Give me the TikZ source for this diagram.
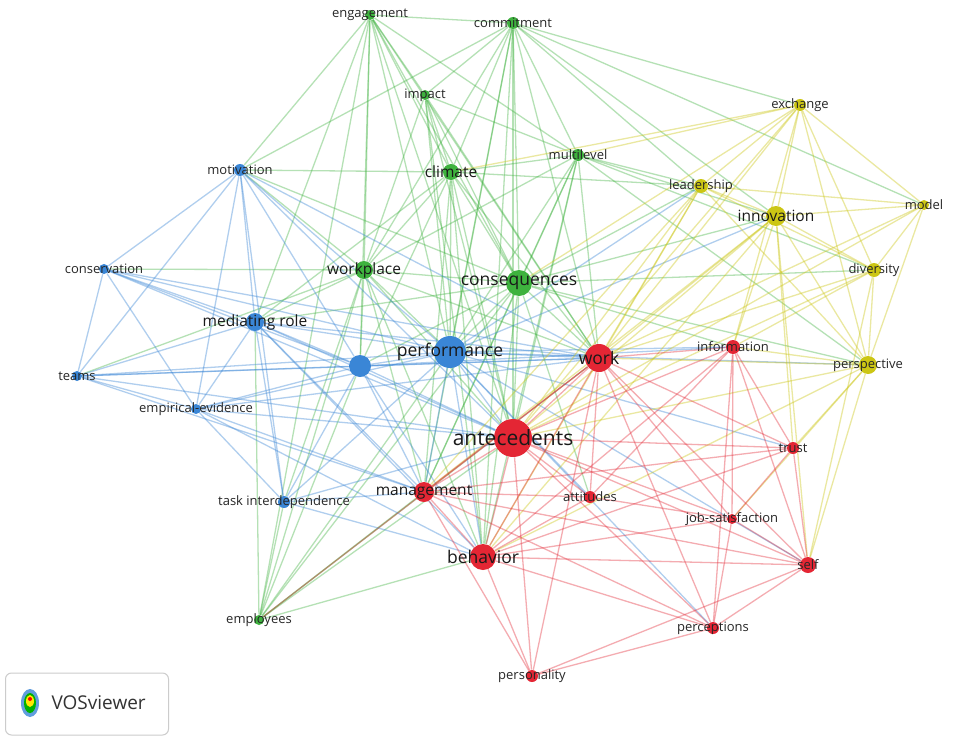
\documentclass[tikz,border=0pt]{standalone}
\usepackage{fontspec}
\setmainfont{Open Sans}
\pgfdeclarelayer{background}
\pgfsetlayers{background,main}
\definecolor{vred}{RGB}{228,38,52}
\definecolor{vgreen}{RGB}{62,178,62}
\definecolor{vblue}{RGB}{58,134,214}
\definecolor{vyellow}{RGB}{204,198,20}
\tikzset{every picture/.style={line width=0.75pt}}
\tikzset{
  dot/.style 2 args={circle,fill=#1,minimum size=#2,inner sep=0pt},
  lbl/.style={font=\fontsize{13}{13}\selectfont,text=black!85},
  midlbl/.style={font=\fontsize{15.5}{15.5}\selectfont,text=black!90},
  biglbl/.style={font=\fontsize{17.5}{17.5}\selectfont,text=black!90},
  hugelbl/.style={font=\fontsize{21}{21}\selectfont,text=black!90},
  redge/.style={draw=vred,draw opacity=0.38,line width=1.3pt},
  gedge/.style={draw=vgreen,draw opacity=0.38,line width=1.3pt},
  bedge/.style={draw=vblue,draw opacity=0.4,line width=1.3pt},
  yedge/.style={draw=vyellow,draw opacity=0.4,line width=1.3pt}
}

\begin{document}
\begin{tikzpicture}[x=1pt,y=-1pt]
\useasboundingbox (0,0) rectangle (957,741);

% green cluster
\node [dot={vgreen}{10}] (eng) at (370,15) {};
\node [dot={vgreen}{12}] (comm) at (513,23) {};
\node [dot={vgreen}{10}] (imp) at (425,95) {};
\node [dot={vgreen}{16}] (clim) at (451,172) {};
\node [dot={vgreen}{12}] (multi) at (578,155) {};
\node [dot={vgreen}{18}] (wplace) at (364,270) {};
\node [dot={vgreen}{26}] (conseq) at (519,283) {};
\node [dot={vgreen}{10}] (empl) at (259,620) {};
% blue cluster
\node [dot={vblue}{12}] (motiv) at (240,170) {};
\node [dot={vblue}{10}] (cons) at (104,269) {};
\node [dot={vblue}{18}] (medrole) at (255,322) {};
\node [dot={vblue}{10}] (teams) at (77,376) {};
\node [dot={vblue}{10}] (empev) at (196,409) {};
\node [dot={vblue}{12}] (task) at (284,502) {};
\node [dot={vblue}{22}] (blueb) at (360,366) {};
\node [dot={vblue}{32}] (perf) at (450,352) {};
% yellow cluster
\node [dot={vyellow}{12}] (exch) at (800,105) {};
\node [dot={vyellow}{14}] (lead) at (701,186) {};
\node [dot={vyellow}{20}] (innov) at (776,216) {};
\node [dot={vyellow}{10}] (model) at (924,205) {};
\node [dot={vyellow}{14}] (divers) at (874,270) {};
\node [dot={vyellow}{18}] (persp) at (868,365) {};
% red cluster
\node [dot={vred}{28}] (work) at (599,358) {};
\node [dot={vred}{14}] (info) at (733,347) {};
\node [dot={vred}{38}] (ante) at (513,438) {};
\node [dot={vred}{12}] (trust) at (793,448) {};
\node [dot={vred}{20}] (mgmt) at (424,492) {};
\node [dot={vred}{12}] (att) at (590,497) {};
\node [dot={vred}{10}] (jobsat) at (732,519) {};
\node [dot={vred}{26}] (behav) at (483,557) {};
\node [dot={vred}{16}] (self) at (808,565) {};
\node [dot={vred}{12}] (percep) at (713,628) {};
\node [dot={vred}{12}] (pers) at (532,676) {};

\begin{pgfonlayer}{background}
\fill [white] (0,0) rectangle (957,741);
\foreach \a/\b in {eng/comm,eng/imp,eng/clim,eng/wplace,eng/conseq,eng/perf,eng/ante,eng/blueb,eng/medrole,eng/empl,eng/multi,eng/work,eng/motiv,
  comm/imp,comm/clim,comm/multi,comm/wplace,comm/conseq,comm/perf,comm/ante,comm/work,comm/behav,comm/lead,comm/innov,comm/exch,comm/model,comm/mgmt,comm/motiv,
  imp/clim,imp/wplace,imp/conseq,imp/perf,imp/ante,imp/work,imp/multi,imp/behav,
  clim/wplace,clim/conseq,clim/perf,clim/ante,clim/work,clim/multi,clim/lead,clim/mgmt,clim/behav,clim/motiv,clim/medrole,clim/blueb,
  multi/conseq,multi/perf,multi/ante,multi/work,multi/lead,multi/innov,multi/wplace,multi/mgmt,multi/behav,multi/divers,multi/persp,
  wplace/conseq,wplace/perf,wplace/ante,wplace/blueb,wplace/medrole,wplace/motiv,wplace/cons,wplace/teams,wplace/mgmt,wplace/behav,wplace/work,wplace/empl,wplace/task,
  conseq/perf,conseq/ante,conseq/work,conseq/lead,conseq/innov,conseq/info,conseq/mgmt,conseq/behav,conseq/blueb,conseq/medrole,conseq/empl,conseq/divers,conseq/persp,conseq/att,conseq/motiv,
  empl/perf,empl/blueb,empl/mgmt,empl/ante,empl/task,empl/medrole,empl/behav,empl/work}
  \draw [gedge] (\a) -- (\b);
\foreach \a/\b in {motiv/cons,motiv/medrole,motiv/teams,motiv/empev,motiv/blueb,motiv/perf,motiv/task,motiv/ante,motiv/work,
  cons/medrole,cons/teams,cons/empev,cons/blueb,cons/perf,cons/ante,cons/work,
  medrole/teams,medrole/empev,medrole/blueb,medrole/perf,medrole/ante,medrole/work,medrole/mgmt,medrole/task,medrole/behav,
  teams/empev,teams/blueb,teams/perf,teams/ante,teams/work,teams/mgmt,
  empev/blueb,empev/perf,empev/ante,empev/work,empev/task,empev/mgmt,empev/behav,
  task/blueb,task/perf,task/ante,task/mgmt,task/behav,
  blueb/perf,blueb/ante,blueb/work,blueb/mgmt,blueb/behav,blueb/info,
  perf/ante,perf/work,perf/mgmt,perf/behav,perf/info,perf/lead,perf/innov,perf/persp,perf/att,perf/self,perf/percep,perf/trust}
  \draw [bedge] (\a) -- (\b);
\foreach \a/\b in {exch/lead,exch/innov,exch/model,exch/divers,exch/persp,exch/work,exch/ante,exch/conseq,exch/multi,exch/info,exch/clim,
  lead/innov,lead/model,lead/divers,lead/persp,lead/work,lead/ante,lead/behav,lead/mgmt,
  innov/model,innov/divers,innov/persp,innov/work,innov/ante,innov/info,innov/behav,innov/trust,innov/self,innov/mgmt,
  model/divers,model/persp,model/work,model/ante,
  divers/persp,divers/work,divers/ante,divers/info,divers/self,
  persp/work,persp/ante,persp/info,persp/trust,persp/self,persp/behav,persp/jobsat}
  \draw [yedge] (\a) -- (\b);
\foreach \a/\b in {work/ante,work/info,work/trust,work/mgmt,work/att,work/jobsat,work/behav,work/self,work/percep,work/pers,work/empl,
  info/ante,info/trust,info/jobsat,info/self,info/behav,info/att,info/percep,
  ante/trust,ante/mgmt,ante/att,ante/jobsat,ante/behav,ante/self,ante/percep,ante/pers,
  trust/jobsat,trust/self,trust/behav,trust/mgmt,
  mgmt/att,mgmt/behav,mgmt/pers,mgmt/percep,mgmt/self,
  att/behav,att/jobsat,jobsat/self,jobsat/behav,jobsat/percep,
  behav/self,behav/percep,behav/pers,self/percep,self/pers,percep/pers}
  \draw [redge] (\a) -- (\b);
\end{pgfonlayer}

% Labels
\node [lbl] at (eng) {engagement};
\node [lbl] at (comm) {commitment};
\node [lbl] at (imp) {impact};
\node [midlbl] at (clim) {climate};
\node [lbl] at (multi) {multilevel};
\node [midlbl] at (wplace) {workplace};
\node [biglbl] at (conseq) {consequences};
\node [lbl] at (empl) {employees};
\node [lbl] at (motiv) {motivation};
\node [lbl] at (cons) {conservation};
\node [midlbl] at (medrole) {mediating role};
\node [lbl] at (teams) {teams};
\node [lbl] at (empev) {empirical-evidence};
\node [lbl] at (task) {task interdependence};
\node [biglbl] at (perf) {performance};
\node [lbl] at (exch) {exchange};
\node [lbl] at (lead) {leadership};
\node [midlbl] at (innov) {innovation};
\node [lbl] at (model) {model};
\node [lbl] at (divers) {diversity};
\node [lbl] at (persp) {perspective};
\node [biglbl] at (work) {work};
\node [lbl] at (info) {information};
\node [hugelbl] at (ante) {antecedents};
\node [lbl] at (trust) {trust};
\node [midlbl] at (mgmt) {management};
\node [lbl] at (att) {attitudes};
\node [lbl] at (jobsat) {job-satisfaction};
\node [biglbl] at (behav) {behavior};
\node [lbl] at (self) {self};
\node [lbl] at (percep) {perceptions};
\node [lbl] at (pers) {personality};

% VOSviewer logo
\node [draw=black!20,rounded corners=6pt,minimum width=163,minimum height=62,line width=1pt] (logo) at (87,704) {};
\node [font=\fontsize{19}{19}\selectfont,text=black!80,anchor=west] (logotxt) at (48,703) {VOSviewer};
\fill [vblue!80] (30,703) ellipse (9 and 14);
\fill [green!70!black] (30,703) ellipse (6 and 10);
\fill [yellow!90!orange] (30,701) ellipse (4 and 6);
\fill [red] (30,699) circle (2);
\end{tikzpicture}
\end{document}
